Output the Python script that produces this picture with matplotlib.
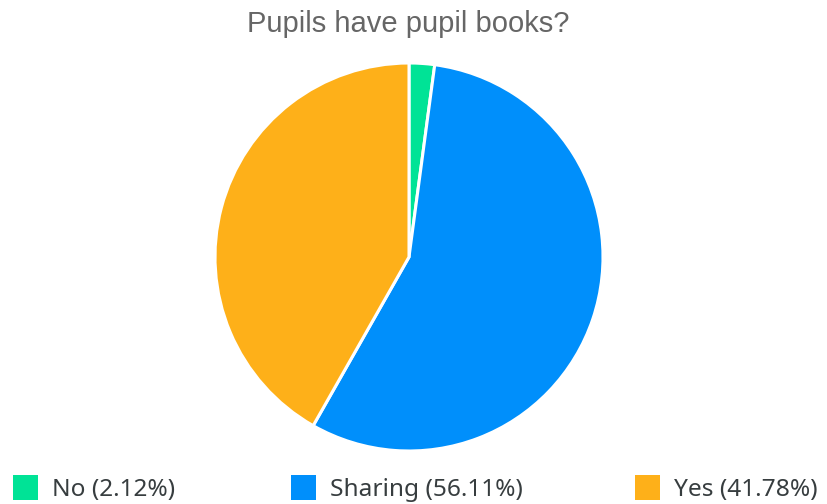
import matplotlib
matplotlib.use("Agg")
import matplotlib.pyplot as plt
from matplotlib.patches import Rectangle

title = "Pupils have pupil books?"
categories = ["No", "Sharing", "Yes"]
values = [2.12, 56.11, 41.78]
colors = ["#00E396", "#008FFB", "#FEB019"]

W, H = 828, 504
fig = plt.figure(figsize=(W / 100, H / 100), dpi=100)
fig.patch.set_facecolor("white")

cx, cy, r = 409, 257, 194
ax = fig.add_axes([(cx - r) / W, (H - cy - r) / H, 2 * r / W, 2 * r / H])
ax.pie(values, colors=colors, startangle=90, counterclock=False, radius=1.0,
       wedgeprops=dict(edgecolor="white", linewidth=2.2))
ax.set_xlim(-1.0, 1.0)
ax.set_ylim(-1.0, 1.0)
ax.set_aspect("equal")
ax.axis("off")

fig.text(408 / W, 1 - 24 / H, title, ha="center", va="center",
         fontsize=21, color="#666666", family="Liberation Sans")

# legend
marker_x = [13, 291, 635]
ly = 487
for mx, cat, v, c in zip(marker_x, categories, values, colors):
    fig.patches.append(Rectangle((mx / W, (H - ly - 12.5) / H), 25 / W, 25 / H,
                                 transform=fig.transFigure, facecolor=c,
                                 edgecolor="none"))
    fig.text((mx + 39) / W, 1 - (ly + 3) / H, f"{cat} ({v:.2f}%)", ha="left", va="center",
             fontsize=17.6, color="#373d3f", family="Noto Sans")

fig.savefig("out.png", dpi=100)
